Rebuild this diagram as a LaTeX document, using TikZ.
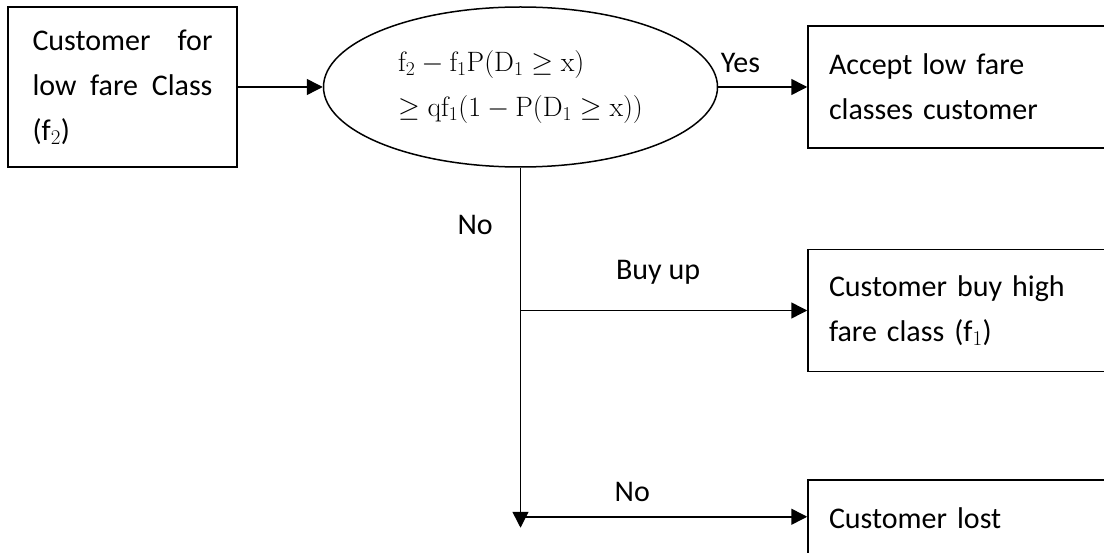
\RequirePackage{fix-cm}
\documentclass[tikz,border=0pt]{standalone}
\usepackage[no-math]{fontspec}
\setmainfont{Carlito}
\usetikzlibrary{arrows.meta, positioning, shapes.geometric}

\begin{document}
\begin{tikzpicture}[
  x=1pt, y=1pt,
  node distance=85pt and 85pt,
  every node/.style={font=\fontsize{30}{45}\selectfont},
  box/.style={draw, line width=1.5pt, minimum width=297pt,
              minimum height=122pt, inner sep=0pt,
              text width=255pt, align=left},
  lbl/.style={inner sep=0pt},
  arr/.style={-{Triangle[length=16pt, width=16pt]}, line width=1.5pt}
]
  \useasboundingbox (0,0) rectangle (1104,-553);
  \clip (0,0) rectangle (1104,-553);

  \node (cust) [box, minimum width=229pt, minimum height=160pt,
                text width=180pt] at (122.5,-87)
        {Customer\hfill for\\ low\hfill fare\hfill Class\\ (f$_2$)};
  \node (cond) [right=85pt of cust, draw, ellipse, line width=1.5pt,
                minimum width=394pt, minimum height=160pt, inner sep=0pt,
                align=left, font=\fontsize{28}{45}\selectfont]
        {$\mathrm{f_2 - f_1P(D_1 \geq x)}$\\
         $\geq \mathrm{qf_1(1 - P(D_1 \geq x))}$};
  \node (accept) [box, right=89pt of cond]
        {Accept low fare\\ classes customer};
  \node (buyup)  [box, below=100pt of accept]
        {Customer buy high\\ fare class (f$_1$)};
  \node (lost)   [box, below=107pt of buyup]
        {Customer lost\\ \mbox{}};

  \coordinate (split) at (cond.south |- buyup.west);
  \coordinate [below=349pt of cond.south] (turn);
  \coordinate [below=360pt of cond.south] (tip);

  \draw[arr] (cust) -- (cond);
  \draw[arr] (cond) -- node[lbl, pos=0.25, above=14pt] {Yes} (accept);
  \draw[arr] (cond.south) -- node[lbl, pos=0.16, left=27pt] {No} (tip);
  \draw[arr] (split) -- node[lbl, pos=0.48, above=25pt] {Buy up} (buyup);
  \draw[arr] (turn) -- node[lbl, pos=0.39, above=14pt] {No} (turn -| lost.west);
\end{tikzpicture}
\end{document}
